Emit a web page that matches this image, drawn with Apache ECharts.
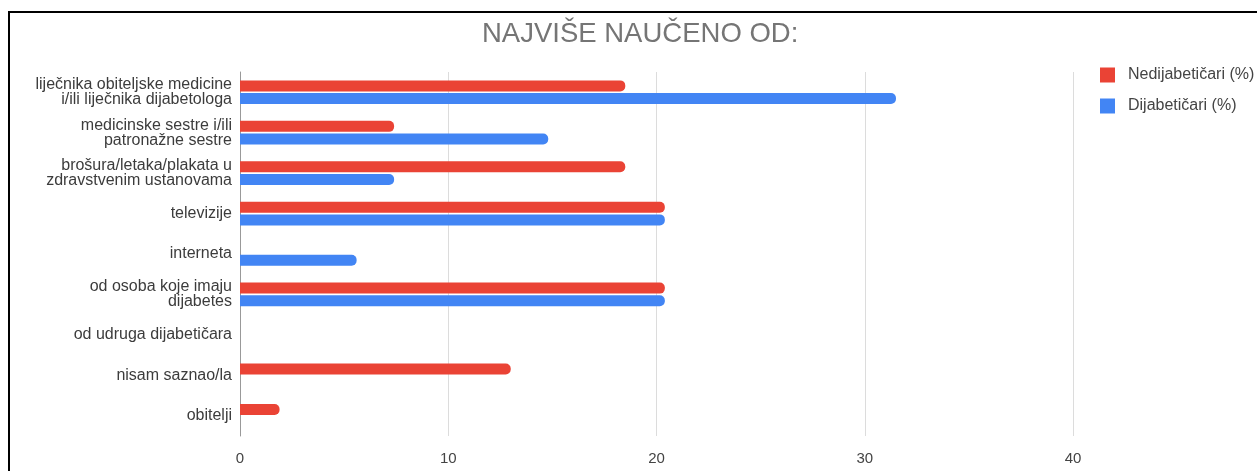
<!DOCTYPE html>
<html>
<head>
<meta charset="utf-8">
<script src="https://cdn.jsdelivr.net/npm/echarts@6/dist/echarts.min.js"></script>
<style>
  body { margin: 0; background: #fff; overflow: hidden; }
  #main { position: absolute; left: 0; top: 0; width: 1257px; height: 471px; }
  #frame { position: absolute; left: 8px; top: 11px; width: 1300px; height: 600px; border: 2px solid #000; pointer-events: none; }
</style>
</head>
<body>
<div id="main"></div>
<div id="frame"></div>
<script>
// podaci (%)
var categories = [
    'liječnika obiteljske medicine\ni/ili liječnika dijabetologa',
    'medicinske sestre i/ili\npatronažne sestre',
    'brošura/letaka/plakata u\nzdravstvenim ustanovama',
    'televizije',
    'interneta',
    'od osoba koje imaju\ndijabetes',
    'od udruga dijabetičara',
    'nisam saznao/la',
    'obitelji'
];
var nedijabeticari = [18.5, 7.4, 18.5, 20.4, 0, 20.4, 0, 13.0, 1.9];
var dijabeticari = [31.5, 14.8, 7.4, 20.4, 5.6, 20.4, 0, 0, 0];
var xTicks = [0, 10, 20, 30, 40];

var font = '"Liberation Sans", Arial, sans-serif';

var option = {
    animation: false,
    title: {
        text: 'NAJVIŠE NAUČENO OD:',
        left: 482,
        top: 20,
        padding: 0,
        textStyle: { fontFamily: font, fontSize: 27.5, fontWeight: 'normal', color: '#757575' }
    },
    legend: {
        orient: 'vertical',
        left: 1100,
        top: 67,
        padding: 0,
        itemWidth: 15,
        itemHeight: 15,
        itemGap: 15,
        icon: 'rect',
        data: ['Nedijabetičari (%)', 'Dijabetičari (%)'],
        textStyle: { fontFamily: font, fontSize: 16, color: '#444', padding: [0, 0, 0, 8] }
    },
    grid: { left: 240, right: 184, top: 72, bottom: 35 },
    xAxis: {
        type: 'value',
        min: xTicks[0],
        max: xTicks[xTicks.length - 1],
        interval: 10,
        axisLine: { show: false },
        axisTick: { show: false },
        splitLine: { lineStyle: { color: '#dcdcdc', width: 1 } },
        axisLabel: { fontFamily: font, fontSize: 15, color: '#444', margin: 15 }
    },
    yAxis: {
        type: 'category',
        inverse: true,
        data: categories,
        axisLine: { lineStyle: { color: '#999', width: 1 } },
        axisTick: { show: false },
        axisLabel: { fontFamily: font, fontSize: 16, color: '#3c3c3c', margin: 8, lineHeight: 15 }
    },
    series: [
        {
            name: 'Nedijabetičari (%)',
            type: 'bar',
            data: nedijabeticari,
            barWidth: 11,
            barGap: '15%',
            itemStyle: { color: '#EA4335', borderRadius: [0, 5, 5, 0] }
        },
        {
            name: 'Dijabetičari (%)',
            type: 'bar',
            data: dijabeticari,
            barWidth: 11,
            barGap: '15%',
            itemStyle: { color: '#4285F4', borderRadius: [0, 5, 5, 0] }
        }
    ]
};

var myChart = echarts.init(document.getElementById('main'));
myChart.setOption(option);
</script>
</body>
</html>
